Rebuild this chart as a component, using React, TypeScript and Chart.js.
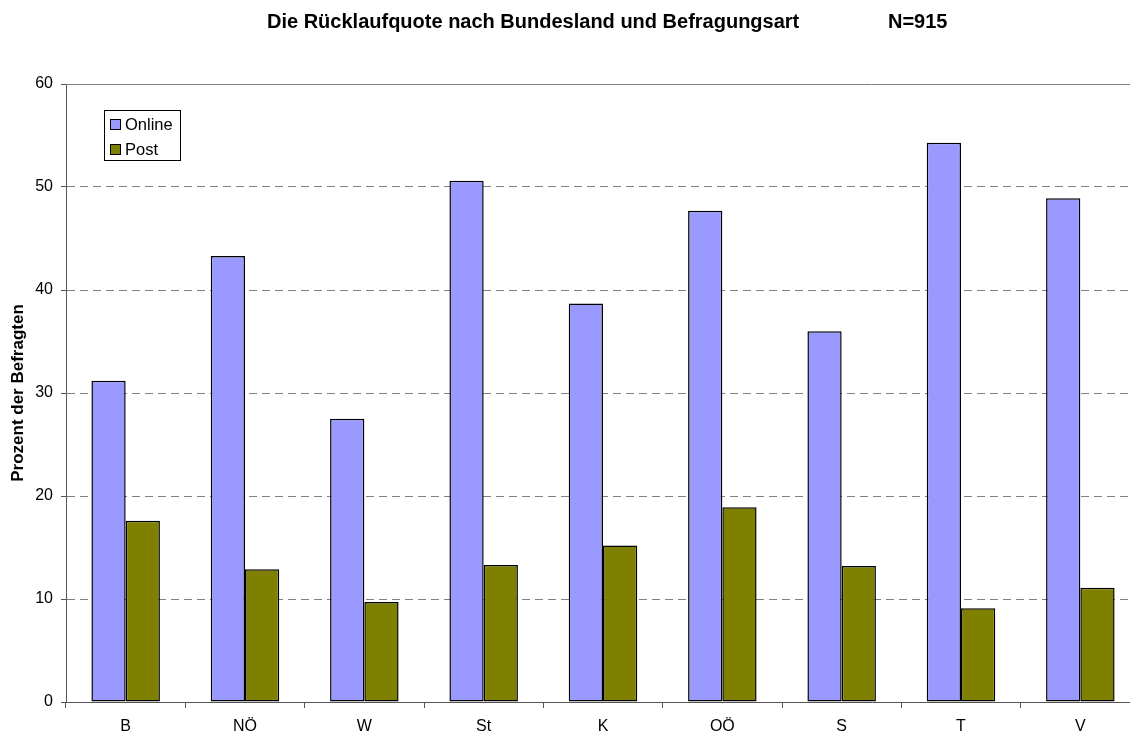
import React, { useEffect, useRef } from "react";
import { Chart, registerables } from "chart.js";

Chart.register(...registerables);

const categories = ["B", "NÖ", "W", "St", "K", "OÖ", "S", "T", "V"];
const onlineValues = [31.2, 43.3, 27.5, 50.6, 38.7, 47.7, 36.0, 54.3, 48.9];
const postValues = [17.6, 12.9, 9.7, 13.3, 15.2, 18.9, 13.2, 9.1, 11.1];
const yTicks = [0, 10, 20, 30, 40, 50, 60];
const seriesNames = ["Online", "Post"];
const seriesColors = ["#9999FF", "#808000"];
const titleText = "Die Rücklaufquote nach Bundesland und Befragungsart";
const titleN = "N=915";
const yTitle = "Prozent der Befragten";

const FONT = '"Liberation Sans", Arial, sans-serif';

const decorPlugin = {
  id: "decor",
  afterDraw(chart: any) {
    const { ctx, chartArea } = chart;
    ctx.save();
    // solid top line
    ctx.strokeStyle = "#808080";
    ctx.lineWidth = 1;
    ctx.beginPath();
    ctx.moveTo(chartArea.left, Math.round(chartArea.top) + 0.5);
    ctx.lineTo(chartArea.right, Math.round(chartArea.top) + 0.5);
    ctx.stroke();

    // title
    ctx.fillStyle = "#000";
    ctx.font = `bold 20px ${FONT}`;
    ctx.textAlign = "left";
    ctx.textBaseline = "alphabetic";
    ctx.fillText(titleText, 267, 28);
    ctx.fillText(titleN, 888, 28);

    // y title
    ctx.save();
    ctx.translate(23, (chartArea.top + chartArea.bottom) / 2);
    ctx.rotate(-Math.PI / 2);
    ctx.font = `bold 17px ${FONT}`;
    ctx.textAlign = "center";
    ctx.fillText(yTitle, 0, 0);
    ctx.restore();

    // legend
    ctx.fillStyle = "#fff";
    ctx.fillRect(104.5, 110.5, 76, 50);
    ctx.strokeStyle = "#000";
    ctx.lineWidth = 1;
    ctx.strokeRect(104.5, 110.5, 76, 50);
    const rows = [119, 144];
    seriesNames.forEach((name, i) => {
      ctx.fillStyle = seriesColors[i];
      ctx.fillRect(110.5, rows[i] + 0.5, 10, 10);
      ctx.strokeStyle = "#000";
      ctx.strokeRect(110.5, rows[i] + 0.5, 10, 10);
      ctx.fillStyle = "#000";
      ctx.font = `16.5px ${FONT}`;
      ctx.textAlign = "left";
      ctx.textBaseline = "alphabetic";
      ctx.fillText(name, 125, rows[i] + 11);
    });
    ctx.restore();
  },
};

export default function App() {
  const ref = useRef<HTMLCanvasElement | null>(null);
  useEffect(() => {
    document.body.style.overflow = "hidden";
    document.documentElement.style.overflow = "hidden";
    const canvas = ref.current!;
    const chart = new Chart(canvas, {
      type: "bar",
      data: {
        labels: categories,
        datasets: [
          {
            label: seriesNames[0],
            data: onlineValues,
            backgroundColor: seriesColors[0],
            borderColor: "#000",
            borderWidth: 1.5,
            borderSkipped: false,
            categoryPercentage: 0.574,
            barPercentage: 1,
          },
          {
            label: seriesNames[1],
            data: postValues,
            backgroundColor: seriesColors[1],
            borderColor: "#000",
            borderWidth: 1.5,
            borderSkipped: false,
            categoryPercentage: 0.574,
            barPercentage: 1,
          },
        ],
      },
      options: {
        responsive: false,
        animation: false,
        layout: { padding: { top: 84, left: 0, right: 0, bottom: 0 } },
        plugins: {
          legend: { display: false },
          title: { display: false },
          tooltip: { enabled: false },
        },
        scales: {
          x: {
            grid: {
              drawOnChartArea: false,
              drawTicks: true,
              tickLength: 6,
              tickColor: "#555",
              offset: true,
            },
            border: { color: "#555", width: 1 },
            ticks: {
              color: "#000",
              font: { family: FONT, size: 16 },
              padding: 9,
            },
            afterFit: (s: any) => {
              s.height = 32;
            },
          },
          y: {
            min: 0,
            max: 60,
            afterBuildTicks: (s: any) => {
              s.ticks = yTicks.map((v) => ({ value: v }));
            },
            grid: {
              color: "#808080",
              tickColor: "#555",
              tickLength: 5,
              tickBorderDash: [],
            },
            border: { color: "#555", width: 1, dash: [8, 5] },
            ticks: {
              color: "#000",
              font: { family: FONT, size: 16 },
              padding: 8,
            },
            afterFit: (s: any) => {
              s.width = 66;
            },
          },
        },
      },
      plugins: [decorPlugin],
    });
    return () => chart.destroy();
  }, []);
  return (
    <canvas
      ref={ref}
      width={1140}
      height={734}
      style={{ position: "absolute", left: 0, top: 0, width: 1140, height: 734 }}
    />
  );
}
